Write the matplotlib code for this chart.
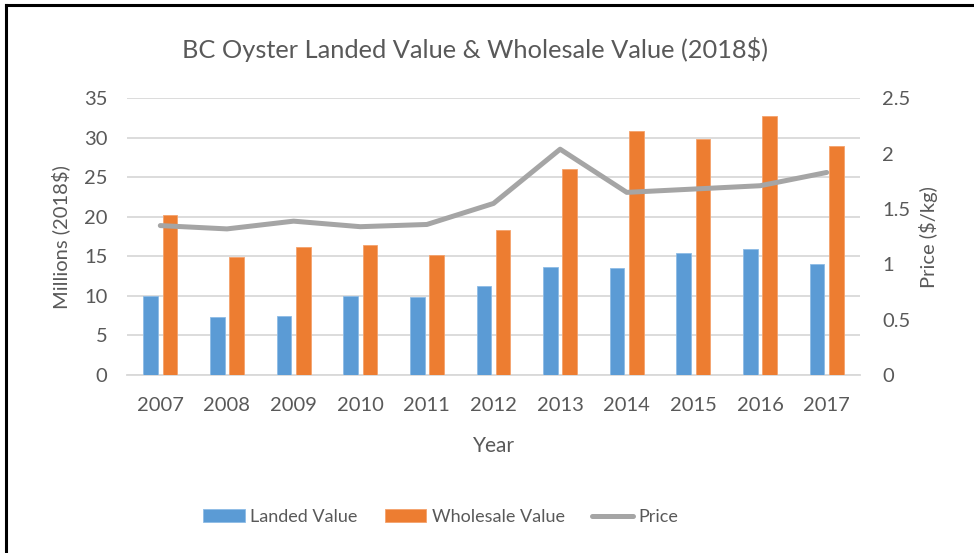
import matplotlib
matplotlib.use("Agg")
import matplotlib.pyplot as plt
import numpy as np

plt.rcParams['font.family'] = ['Lato', 'DejaVu Sans']

years = ['2007', '2008', '2009', '2010', '2011', '2012', '2013', '2014', '2015', '2016', '2017']
landed = [10.0, 7.3, 7.5, 10.0, 9.9, 11.3, 13.6, 13.5, 15.4, 15.9, 14.1]
wholesale = [20.2, 14.9, 16.2, 16.4, 15.2, 18.4, 26.1, 30.9, 29.9, 32.7, 29.0]
price = [1.35, 1.32, 1.39, 1.34, 1.36, 1.55, 2.04, 1.65, 1.68, 1.71, 1.83]

txt = '#595959'
grid = '#D9D9D9'

fig = plt.figure(figsize=(9.74, 5.53), dpi=100)
ax = fig.add_axes([127/974, 1-375/553, (860-127)/974, (375-98.3)/553])
ax2 = ax.twinx()

x = np.arange(len(years))
w = 0.22
b1 = ax.bar(x - 0.145, landed, w, color='#5B9BD5', edgecolor='#8DBCE6', linewidth=0.6,
            label='Landed Value', zorder=3)
b2 = ax.bar(x + 0.145, wholesale, w, color='#ED7D31', edgecolor='#F4A26C', linewidth=0.6,
            label='Wholesale Value', zorder=3)
ln, = ax2.plot(x, price, color='#A5A5A5', lw=3.6, solid_capstyle='round', label='Price', zorder=4)

ax.set_xlim(-0.5, len(years) - 0.5)
ax.set_ylim(0, 35)
ax.set_yticks(range(0, 36, 5))
ax2.set_ylim(0, 2.5)
ax2.set_yticks([0, 0.5, 1, 1.5, 2, 2.5])
ax2.set_yticklabels(['0', '0.5', '1', '1.5', '2', '2.5'])
ax.set_xticks(x)
ax.set_xticklabels(years)

ax.yaxis.grid(True, color=grid, lw=1.3, zorder=0)
ax.set_axisbelow(True)
for a in (ax, ax2):
    for s in a.spines.values():
        s.set_visible(False)
    a.tick_params(length=0, colors=txt, labelsize=14.5)
ax.spines['bottom'].set_visible(True)
ax.spines['bottom'].set_color(grid)
ax.spines['bottom'].set_linewidth(1.3)
ax.tick_params(axis='y', pad=14)
ax.tick_params(axis='x', pad=16)
ax2.tick_params(axis='y', pad=16)

ax.set_xlabel('Year', color=txt, fontsize=15, labelpad=16)
ax.set_ylabel('Millions (2018$)', color=txt, fontsize=14.5, labelpad=10)
ax2.set_ylabel('Price ($/kg)', color=txt, fontsize=14.5, labelpad=6)

fig.text(475/974, 1-50/553, 'BC Oyster Landed Value & Wholesale Value (2018$)',
         ha='center', va='center', color=txt, fontsize=18.3)

fig.legend(handles=[b1, b2, ln], loc='center', bbox_to_anchor=(441/974, 1-517/553),
           ncol=3, frameon=False, fontsize=13, labelcolor=txt, handlelength=2.3,
           handleheight=0.75, handletextpad=0.3, columnspacing=1.5)

# frame line drawn on top and left, as in the cropped screenshot
fig.add_artist(plt.Line2D([6/974, 1], [1-5/553, 1-5/553], color='black', lw=2.2,
                          transform=fig.transFigure))
fig.add_artist(plt.Line2D([6/974, 6/974], [0, 1-5/553], color='black', lw=2.2,
                          transform=fig.transFigure))

fig.savefig('out.png', dpi=100)
